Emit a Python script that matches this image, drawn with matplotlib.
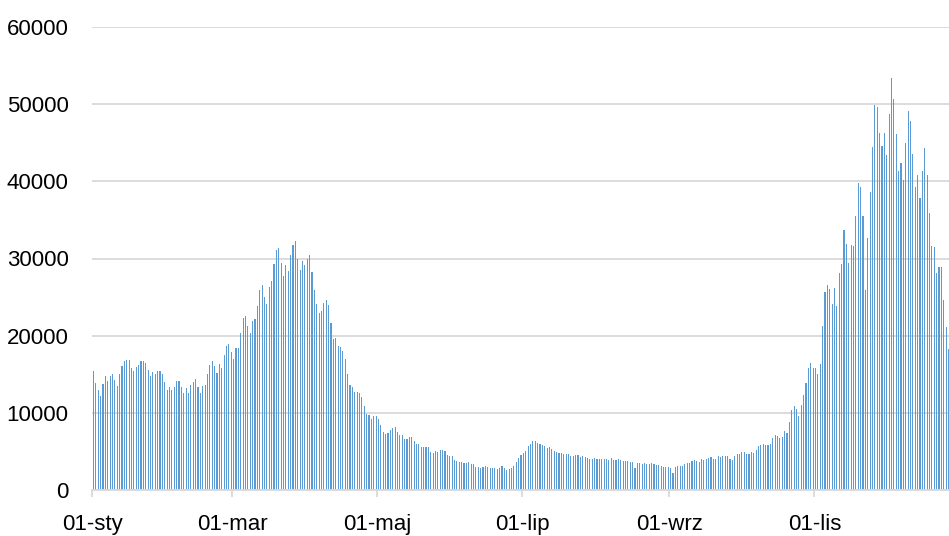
import matplotlib
matplotlib.use('Agg')
import matplotlib.pyplot as plt
import numpy as np

plt.rcParams['font.family'] = ['Liberation Sans', 'DejaVu Sans']

# daily values, 01-sty onwards
values = [
    15390, 13920, 12930, 12150, 13790, 14740, 14140, 14740, 15090, 14220,
    13450, 15090, 16030, 16680, 16810, 16810, 15820, 15390, 15900, 16210,
    16680, 16680, 16420, 15560, 14740, 15300, 15090, 15390, 15390, 15000,
    14010, 12930, 13360, 12930, 13360, 14090, 14180, 13320, 12630, 13190,
    12630, 13580, 14010, 14400, 13360, 12540, 13530, 13580, 15000, 16250,
    16770, 16030, 15130, 16380, 15860, 17460, 18640, 18960, 17870, 16920,
    18400, 18450, 20390, 22330, 22500, 21210, 20300, 21850, 22110, 23880,
    25950, 26590, 24950, 24050, 26250, 27020, 29310, 31160, 31380, 29440,
    27670, 29180, 28400, 30390, 31720, 32240, 29910, 28450, 29700, 29220,
    29990, 30390, 28190, 25950, 24050, 22890, 23140, 24180, 24650, 23960,
    21590, 19520, 19650, 18710, 18490, 18020, 17020, 15000, 13580, 13320,
    12760, 12760, 12590, 12110, 10860, 9830, 9700, 9260, 9600, 9580,
    9200, 8360, 7530, 7310, 7400, 7830, 8050, 8220, 7530, 7180,
    7090, 6610, 6660, 6920, 6920, 6310, 5960, 5920, 5610, 5610,
    5570, 5520, 4960, 4740, 5090, 4960, 5220, 5220, 5000, 4570,
    4440, 4390, 3830, 3740, 3570, 3650, 3480, 3520, 3650, 3350,
    3350, 3000, 2960, 2870, 3000, 3090, 3000, 2870, 2910, 2910,
    2700, 2870, 3090, 2870, 2610, 2740, 2870, 3090, 3610, 4130,
    4520, 4830, 5070, 5640, 5960, 6310, 6310, 6090, 5960, 5790,
    5660, 5440, 5570, 5310, 5000, 4920, 4740, 4790, 4610, 4650,
    4610, 4440, 4390, 4520, 4520, 4310, 4440, 4310, 4090, 3960,
    4050, 4130, 3960, 4000, 4000, 4050, 4000, 3920, 4090, 3920,
    3920, 4000, 3870, 3780, 3780, 3740, 3610, 3610, 2870, 3520,
    3520, 3390, 3520, 3310, 3390, 3520, 3350, 3220, 3220, 3130,
    2960, 2990, 2990, 2900, 2250, 2970, 3150, 3150, 3150, 3320,
    3490, 3490, 3710, 3840, 3710, 3620, 3970, 3880, 4010, 4180,
    4270, 4050, 4050, 4440, 4270, 4350, 4440, 4350, 4050, 3880,
    4440, 4610, 4700, 4960, 4910, 4650, 4610, 4910, 4780, 5220,
    5650, 5780, 5900, 5860, 5820, 5950, 6680, 7150, 6980, 6680,
    6850, 7630, 7370, 8790, 10340, 10950, 10520, 9530, 10970, 12330,
    13900, 15750, 16420, 15750, 15800, 15040, 16310, 21290, 25600, 26590,
    26030, 24050, 26160, 23790, 28100, 29310, 33750, 31890, 29480, 31810,
    31680, 35560, 39740, 39310, 35510, 25950, 32710, 38660, 44390, 49910,
    49690, 46250, 44610, 46250, 43440, 48790, 53400, 50730, 46160, 41380,
    42410, 40210, 44950, 49090, 47800, 43490, 39310, 40860, 37840, 41290,
    44350, 40860, 35900, 31640, 31510, 28100, 28880, 28960, 24610, 21080,
    18320,
]

tick_days = [0, 59, 120, 181, 243, 304]
tick_labels = ['01-sty', '01-mar', '01-maj', '01-lip', '01-wrz', '01-lis']
y_ticks = [0, 10000, 20000, 30000, 40000, 50000, 60000]

fig = plt.figure(figsize=(9.49, 5.36), dpi=100)
ax = fig.add_axes([92.3 / 949, 46 / 536, (949 - 92.3) / 949, 463 / 536])

days = np.arange(len(values)) + 0.5
ax.bar(days, values, width=0.45, color='#5B9BD5', linewidth=0)

ax.set_xlim(0, 360.7)
ax.set_ylim(0, 60000)
ax.set_yticks(y_ticks)
ax.set_yticklabels([str(v) for v in y_ticks])
ax.set_xticks(tick_days)
ax.set_xticklabels(tick_labels)

ax.yaxis.grid(True, color='#d9d9d9', linewidth=1.3)
ax.set_axisbelow(True)
for side in ['top', 'right', 'left']:
    ax.spines[side].set_visible(False)
ax.spines['bottom'].set_color('#d9d9d9')
ax.spines['bottom'].set_linewidth(1.3)

ax.tick_params(axis='y', length=0, pad=17, labelsize=16, labelcolor='black')
ax.tick_params(axis='x', length=5, width=1.3, color='#d9d9d9', pad=12,
               labelsize=16, labelcolor='black')

fig.savefig('out.png', dpi=100)
